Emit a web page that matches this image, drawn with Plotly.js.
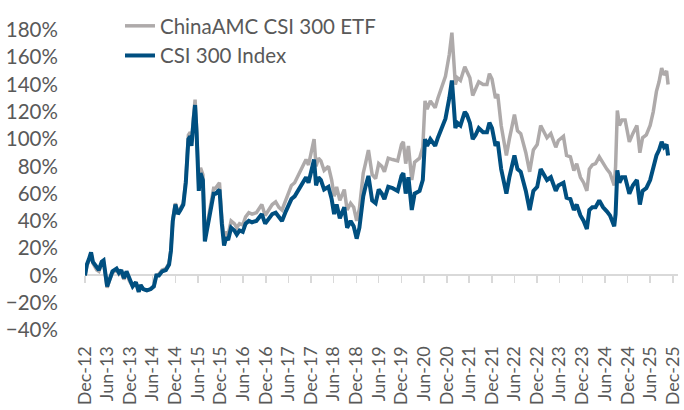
<!DOCTYPE html>
<html>
<head>
<meta charset="utf-8">
<script src="https://cdn.plot.ly/plotly-3.0.1.min.js"></script>
<style>html,body{margin:0;padding:0;background:#fff;}#chart{width:684px;height:410px;}</style>
</head>
<body>
<div id="chart"></div>
<script>
// Cumulative performance (%)
const dates = [
"2012-12-31","2013-01-15","2013-02-01","2013-02-18","2013-03-05","2013-03-20","2013-04-05","2013-04-22","2013-05-15","2013-05-30",
"2013-06-28","2013-07-15","2013-08-10","2013-09-12","2013-10-01","2013-10-20","2013-11-10","2013-12-01","2013-12-25","2014-01-20",
"2014-02-15","2014-03-10","2014-03-25","2014-04-15","2014-05-15","2014-06-15","2014-07-10","2014-07-30","2014-08-20","2014-09-15",
"2014-10-15","2014-11-10","2014-11-25","2014-12-10","2014-12-31","2015-01-20","2015-02-10","2015-03-05","2015-03-25","2015-04-15",
"2015-04-30","2015-05-10","2015-05-28","2015-06-08","2015-06-20","2015-07-08","2015-07-22","2015-08-10","2015-08-26","2015-09-15",
"2015-10-10","2015-11-05","2015-11-20","2015-12-22","2016-01-10","2016-01-28","2016-02-15","2016-03-01","2016-03-25","2016-04-20",
"2016-05-10","2016-06-01","2016-06-27","2016-07-20","2016-08-15","2016-09-10","2016-10-15","2016-11-28","2016-12-25","2017-01-20",
"2017-02-20","2017-03-20","2017-04-15","2017-05-10","2017-06-10","2017-07-05","2017-07-25","2017-08-20","2017-09-15","2017-10-10",
"2017-11-20","2017-12-10","2018-01-24","2018-02-09","2018-02-28","2018-03-20","2018-04-15","2018-05-20","2018-06-15","2018-07-05",
"2018-07-25","2018-08-20","2018-09-25","2018-10-18","2018-11-15","2018-12-10","2019-01-03","2019-01-25","2019-02-25","2019-03-15",
"2019-04-08","2019-05-08","2019-06-05","2019-06-30","2019-07-25","2019-08-15","2019-09-15","2019-10-20","2019-11-30","2019-12-31",
"2020-01-15","2020-02-03","2020-02-25","2020-03-23","2020-04-15","2020-05-25","2020-06-20","2020-07-08","2020-07-25","2020-08-20",
"2020-09-28","2020-10-20","2020-11-25","2020-12-20","2021-01-20","2021-02-10","2021-02-25","2021-03-10","2021-03-25","2021-04-20",
"2021-05-25","2021-06-10","2021-07-05","2021-07-28","2021-08-20","2021-09-15","2021-10-20","2021-11-20","2021-12-10","2021-12-31",
"2022-01-28","2022-02-15","2022-03-15","2022-04-26","2022-05-20","2022-06-30","2022-07-25","2022-08-20","2022-09-30","2022-10-31",
"2022-11-30","2022-12-31","2023-01-28","2023-02-20","2023-03-20","2023-04-20","2023-05-30","2023-06-20","2023-07-31","2023-08-25",
"2023-09-25","2023-10-23","2023-11-15","2023-12-15","2024-01-10","2024-02-05","2024-02-25","2024-03-20","2024-04-15","2024-05-15",
"2024-06-15","2024-07-15","2024-08-10","2024-09-13","2024-09-24","2024-10-08","2024-10-25","2024-11-15","2024-12-10","2025-01-13",
"2025-02-10","2025-03-15","2025-04-08","2025-04-30","2025-05-30","2025-06-30","2025-07-25","2025-08-20","2025-09-10","2025-10-01",
"2025-10-20","2025-11-10","2025-11-22"
];
const csi300 = [
0,8,12,17,10,8,5,4,10,11,
-8,-3,3,5,2,4,-2,3,-3,-8,
-5,-12,-7,-10,-11,-10,-8,0,0,3,
4,8,18,40,52,45,48,52,68,100,
102,95,115,125,105,62,75,70,25,35,
45,60,60,63,38,22,28,26,35,33,
30,33,32,38,40,39,40,45,38,41,
45,46,43,40,47,52,56,58,62,65,
72,68,85,66,72,70,63,65,56,45,
52,42,50,35,40,36,27,35,58,65,
73,55,53,63,60,56,65,64,62,73,
75,60,72,48,60,62,70,100,95,100,
95,101,110,115,130,143,125,108,112,110,
120,118,112,100,103,108,105,105,112,108,
95,98,78,60,72,88,78,76,62,48,
62,65,78,74,70,72,62,66,68,57,
56,48,52,44,40,34,48,50,50,55,
50,47,44,36,45,77,68,72,72,60,
66,70,52,62,64,70,78,88,92,98,
94,96,88
];
const etf = [
0,7,11,16,9,7,4,3,9,10,
-9,-4,2,4,1,3,-3,2,-4,-8,
-5,-12,-7,-10,-11,-10,-8,0,1,4,
5,9,19,41,53,46,49,53,70,103,
105,98,118,129,108,66,79,74,28,39,
49,64,64,68,42,26,32,30,40,38,
35,38,37,43,46,45,46,52,44,48,
52,54,50,48,56,62,66,68,73,77,
85,81,100,80,86,84,77,80,70,58,
65,55,63,48,53,50,40,49,75,82,
92,74,71,82,80,76,86,85,84,96,
98,82,95,70,83,86,94,128,122,128,
123,130,140,146,162,178,158,140,145,143,
153,150,145,132,137,142,140,140,148,144,
130,133,110,88,100,118,106,104,90,76,
92,96,110,106,101,104,94,99,102,88,
87,77,82,72,68,62,78,81,82,87,
82,78,75,66,80,121,110,114,114,98,
104,110,90,101,103,110,120,135,142,152,
147,150,140
];
const tickDates = [
"2012-12-31","2013-06-30","2013-12-31","2014-06-30","2014-12-31","2015-06-30","2015-12-31","2016-06-30","2016-12-31",
"2017-06-30","2017-12-31","2018-06-30","2018-12-31","2019-06-30","2019-12-31","2020-06-30","2020-12-31","2021-06-30",
"2021-12-31","2022-06-30","2022-12-31","2023-06-30","2023-12-31","2024-06-30","2024-12-31","2025-06-30","2025-12-31"
];
const tickLabels = [
"Dec-12","Jun-13","Dec-13","Jun-14","Dec-14","Jun-15","Dec-15","Jun-16","Dec-16",
"Jun-17","Dec-17","Jun-18","Dec-18","Jun-19","Dec-19","Jun-20","Dec-20","Jun-21",
"Dec-21","Jun-22","Dec-22","Jun-23","Dec-23","Jun-24","Dec-24","Jun-25","Dec-25"
];
const seriesNames = ["ChinaAMC CSI 300 ETF", "CSI 300 Index"];

const xRange = ["2012-12-31", "2026-02-10"];
const yMin = -40, yMax = 180;
const FONT = "Lato, 'Open Sans', sans-serif";
const TXT = "#595959";

const traces = [
  {type:"scatter", mode:"lines", name:seriesNames[0], x:dates, y:etf,
   line:{color:"#AEAAAA", width:3.5}, hoverinfo:"skip"},
  {type:"scatter", mode:"lines", name:seriesNames[1], x:dates, y:csi300,
   line:{color:"#004F80", width:4}, hoverinfo:"skip"},
  // invisible carrier so that the date-label axis (x2) is drawn
  {type:"scatter", mode:"lines", x:dates, y:csi300, xaxis:"x2", yaxis:"y",
   line:{width:0, color:"rgba(0,0,0,0)"}, opacity:0, showlegend:false, hoverinfo:"skip"}
];

const layout = {
  width:684, height:410,
  margin:{l:85, r:6, t:25, b:80},
  paper_bgcolor:"#fff", plot_bgcolor:"#fff",
  showlegend:true,
  legend:{x:0.059, xanchor:"left", y:1.08, yanchor:"top", bgcolor:"rgba(0,0,0,0)",
          font:{family:FONT, size:20.5, color:TXT}, itemwidth:30, tracegroupgap:0},
  xaxis:{type:"date", range:xRange, anchor:"free", position:(0 - yMin)/(yMax - yMin),
         tickmode:"array", tickvals:tickDates, showticklabels:false,
         ticks:"outside", ticklen:7, tickwidth:1.5, tickcolor:"#D9D9D9",
         showline:true, linecolor:"#D9D9D9", linewidth:2, layer:"below traces",
         showgrid:false, zeroline:false, fixedrange:true},
  xaxis2:{type:"date", range:xRange, overlaying:"x", anchor:"free", position:0, side:"bottom",
          tickmode:"array", tickvals:tickDates, ticktext:tickLabels, tickangle:-90,
          ticks:"outside", ticklen:8, tickcolor:"rgba(0,0,0,0)", ticklabeloverflow:"allow",
          showline:false, showgrid:false, zeroline:false,
          tickfont:{family:FONT, size:18, color:TXT}},
  yaxis:{range:[yMin, yMax], dtick:20, tick0:0, ticksuffix:"%",
         ticks:"outside", ticklen:22, tickcolor:"rgba(0,0,0,0)",
         showgrid:false, zeroline:false, showline:false,
         tickfont:{family:FONT, size:20.5, color:TXT}}
};

Plotly.newPlot("chart", traces, layout, {displayModeBar:false, staticPlot:true});
</script>
</body>
</html>
